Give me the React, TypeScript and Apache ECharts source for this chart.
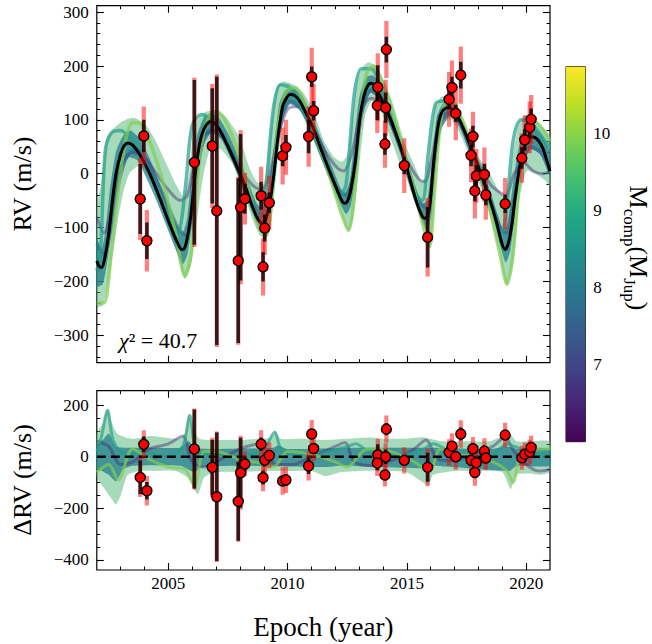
import React, { useEffect, useRef } from "react";
import * as echarts from "echarts";

// ---------------- data ----------------
const epochs = [2003.82, 2003.97, 2004.10, 2006.09, 2006.84, 2007.03, 2007.93, 2008.03, 2008.21, 2008.89, 2008.97, 2009.04, 2009.23, 2009.79, 2009.93, 2010.88, 2011.01, 2011.09, 2013.78, 2013.76, 2014.14, 2014.11, 2014.08, 2014.89, 2015.87, 2016.77, 2016.89, 2017.05, 2017.26, 2017.77, 2017.69, 2017.91, 2017.85, 2018.25, 2018.31, 2019.12, 2019.82, 2019.94, 2020.15, 2020.21];
const rvValues = [-47, 70, -124.5, 21, 51.5, -69, -161.5, -62.5, -46.5, -41, -173, -101, -54, 33, 49, 69, 180, 117, 160.5, 126.5, 230.5, 122.7, 55, 15, -118, 138, 160, 112, 183, 69, 34, -4, -32, -1.5, -39.5, -56, 29, 63, 86, 101];
const rvErrInst = [65, 30, 34, 153, 107, 249, 153, 136, 28, 26, 27, 25, 19, 19, 23, 31, 19, 18, 41, 27, 24, 28, 20, 16, 56, 19, 20, 16, 25, 20, 20, 20, 19, 20, 19, 17, 20, 20, 20, 20];
const rvErrTotal = [76, 55, 57, 157, 115, 253, 156, 143, 48, 54, 53, 50, 50, 53, 51, 56, 54, 50, 63, 51, 53, 52, 44, 51, 73, 51, 50, 50, 53, 46, 50, 50, 51, 50, 46, 48, 46, 45, 48, 45];
const residValues = [-80, 48, -132, 30, -41, -155, -173, -62, -28, 49, -81, -13, 5, -94, -90, -36, 88, 32, 7, -24, 107, 0, -71, -14, -41, 17, 41, 0, 88, 31, -14, -23, -61, 22, -5, 84, -4, 10, 18, 36];

const bestFitCurve = [[2002.0,-162],[2002.1,-172],[2002.2,-174],[2002.32,-160],[2002.52,-105],[2002.68,-40],[2002.81,1],[2003.01,38],[2003.15,52],[2003.3,57],[2003.5,53],[2003.78,37],[2004.2,2],[2004.62,-43],[2005.04,-92],[2005.39,-129],[2005.57,-141],[2005.68,-138],[2005.8,-118],[2005.95,-75],[2006.1,-10],[2006.25,40],[2006.4,72],[2006.58,90],[2006.79,97],[2007.07,87],[2007.42,58],[2007.84,17],[2008.26,-28],[2008.5,-58],[2008.7,-80],[2008.85,-90],[2008.97,-92],[2009.1,-82],[2009.23,-59],[2009.4,-10],[2009.6,70],[2009.79,125],[2009.93,139],[2010.1,147],[2010.3,145],[2010.52,134],[2010.88,103],[2011.05,88],[2011.36,50],[2011.78,2],[2012.13,-36],[2012.3,-52],[2012.4,-55],[2012.52,-50],[2012.65,-30],[2012.83,19],[2013.04,106],[2013.2,145],[2013.35,163],[2013.5,168],[2013.66,163],[2013.77,153],[2014.1,124],[2014.5,80],[2014.89,28],[2015.34,-43],[2015.6,-75],[2015.75,-83],[2015.87,-78],[2015.97,-55],[2016.11,15],[2016.32,92],[2016.5,117],[2016.75,123],[2016.9,120],[2017.05,112],[2017.26,95],[2017.7,48],[2018.14,-5],[2018.49,-50],[2018.77,-92],[2018.98,-129],[2019.12,-141],[2019.25,-130],[2019.4,-95],[2019.53,-48],[2019.7,5],[2019.82,32],[2019.94,52],[2020.15,66],[2020.3,68],[2020.5,62],[2020.7,47],[2020.93,15],[2021.0,5]];

const orbitBandUpper = [[2002.0,-60],[2002.18,-20],[2002.39,63],[2002.66,82],[2003.0,95],[2003.3,102],[2003.64,103],[2004.06,90],[2004.48,60],[2004.9,20],[2005.32,-20],[2005.63,-42],[2005.85,-5],[2006.0,60],[2006.16,95],[2006.45,112],[2006.8,118],[2007.14,117],[2007.42,105],[2007.98,68],[2008.39,12],[2008.7,-15],[2008.98,-20],[2009.15,20],[2009.3,90],[2009.54,160],[2009.82,171],[2010.24,165],[2010.66,150],[2011.08,118],[2011.5,63],[2011.92,32],[2012.27,22],[2012.5,35],[2012.7,100],[2012.9,172],[2013.18,200],[2013.39,207],[2013.74,199],[2014.15,162],[2014.5,118],[2014.92,56],[2015.34,13],[2015.62,-15],[2015.8,-5],[2015.95,40],[2016.18,125],[2016.46,143],[2016.81,140],[2017.16,118],[2017.58,75],[2017.99,32],[2018.41,7],[2018.83,-30],[2019.11,-43],[2019.3,-10],[2019.5,50],[2019.67,85],[2019.95,109],[2020.37,100],[2020.79,82],[2021.0,70]];
const orbitBandLower = [[2002.0,-247],[2002.25,-245],[2002.53,-190],[2002.8,-110],[2003.08,-40],[2003.36,0],[2003.78,15],[2004.13,0],[2004.48,-35],[2004.9,-85],[2005.32,-140],[2005.67,-195],[2005.95,-170],[2006.16,-100],[2006.44,-10],[2006.79,50],[2007.21,45],[2007.7,18],[2008.12,-30],[2008.53,-85],[2008.85,-115],[2009.1,-120],[2009.3,-92],[2009.54,5],[2009.82,100],[2010.1,128],[2010.52,116],[2010.94,80],[2011.36,32],[2011.78,-12],[2012.2,-68],[2012.55,-108],[2012.76,-80],[2013.04,30],[2013.25,108],[2013.53,135],[2013.95,112],[2014.29,69],[2014.71,19],[2014.92,1],[2015.34,-55],[2015.76,-105],[2015.97,-138],[2016.11,-85],[2016.25,30],[2016.46,85],[2016.81,102],[2017.16,80],[2017.58,38],[2017.99,-12],[2018.41,-68],[2018.83,-136],[2019.18,-208],[2019.46,-165],[2019.74,-43],[2020.02,5],[2020.37,0],[2020.79,-12],[2021.0,-24]];
const orbitCoreUpper = [[2002.0,-120],[2002.2,-140],[2002.35,-110],[2002.55,-30],[2002.8,40],[2003.1,70],[2003.4,80],[2003.8,65],[2004.2,30],[2004.6,-15],[2005.0,-60],[2005.4,-100],[2005.6,-110],[2005.8,-80],[2006.0,10],[2006.2,70],[2006.5,105],[2006.8,112],[2007.1,105],[2007.5,75],[2007.9,35],[2008.3,-10],[2008.7,-55],[2008.95,-65],[2009.15,-40],[2009.4,40],[2009.65,130],[2009.9,155],[2010.2,160],[2010.6,145],[2011.0,110],[2011.4,65],[2011.8,20],[2012.2,-25],[2012.4,-35],[2012.6,-15],[2012.8,60],[2013.0,140],[2013.3,180],[2013.6,182],[2013.9,160],[2014.3,115],[2014.8,50],[2015.3,-20],[2015.65,-55],[2015.85,-50],[2016.05,20],[2016.25,105],[2016.55,133],[2016.85,135],[2017.2,110],[2017.6,70],[2018.0,20],[2018.4,-20],[2018.8,-75],[2019.05,-105],[2019.2,-95],[2019.45,-20],[2019.7,50],[2020.0,80],[2020.4,82],[2020.8,60],[2021.0,40]];
const orbitCoreLower = [[2002.0,-210],[2002.25,-205],[2002.45,-160],[2002.7,-80],[2002.95,-10],[2003.3,30],[2003.7,25],[2004.1,-10],[2004.5,-50],[2004.9,-95],[2005.3,-140],[2005.6,-168],[2005.8,-150],[2006.0,-90],[2006.2,-10],[2006.5,55],[2006.8,75],[2007.2,65],[2007.7,20],[2008.1,-25],[2008.5,-70],[2008.85,-105],[2009.05,-105],[2009.3,-60],[2009.5,20],[2009.8,105],[2010.1,130],[2010.5,120],[2010.9,85],[2011.3,40],[2011.8,-15],[2012.2,-55],[2012.45,-75],[2012.65,-60],[2012.9,10],[2013.15,110],[2013.45,150],[2013.8,140],[2014.2,100],[2014.7,40],[2015.2,-35],[2015.6,-85],[2015.85,-105],[2016.05,-70],[2016.25,30],[2016.5,95],[2016.85,108],[2017.2,90],[2017.7,30],[2018.2,-30],[2018.6,-80],[2018.95,-140],[2019.15,-165],[2019.35,-140],[2019.6,-50],[2019.85,15],[2020.2,45],[2020.6,35],[2021.0,-5]];

const orbitHighMass = [[2002.0,-240],[2002.3,-240],[2002.6,-150],[2002.9,-30],[2003.2,60],[2003.5,95],[2003.9,90],[2004.3,50],[2004.8,-20],[2005.3,-110],[2005.7,-190],[2005.95,-150],[2006.2,-20],[2006.5,80],[2006.9,115],[2007.3,105],[2007.8,55],[2008.3,-20],[2008.8,-100],[2009.1,-115],[2009.35,-40],[2009.6,90],[2009.9,150],[2010.3,160],[2010.8,120],[2011.3,55],[2011.8,-10],[2012.3,-80],[2012.55,-105],[2012.8,-40],[2013.0,80],[2013.3,185],[2013.6,200],[2013.9,175],[2014.3,130],[2014.8,50],[2015.3,-30],[2015.7,-100],[2015.95,-135],[2016.15,-40],[2016.4,90],[2016.7,140],[2017.0,130],[2017.5,80],[2018.0,10],[2018.5,-70],[2018.9,-150],[2019.2,-205],[2019.45,-150],[2019.7,-20],[2020.0,80],[2020.4,95],[2020.8,75],[2021.0,60]];
const orbitLowMass = [[2002.0,-80],[2002.3,-110],[2002.6,-70],[2003.0,10],[2003.5,40],[2004.0,30],[2004.5,0],[2005.0,-30],[2005.5,-50],[2005.8,-40],[2006.1,20],[2006.5,70],[2006.9,80],[2007.4,60],[2008.0,10],[2008.5,-20],[2008.9,-30],[2009.2,-10],[2009.6,70],[2010.0,120],[2010.4,125],[2011.0,90],[2011.6,40],[2012.1,10],[2012.35,5],[2012.7,40],[2013.1,120],[2013.5,140],[2013.9,130],[2014.5,75],[2015.0,25],[2015.5,-10],[2015.75,-15],[2016.0,20],[2016.4,100],[2016.8,115],[2017.3,90],[2017.9,30],[2018.5,-20],[2018.9,-35],[2019.15,-40],[2019.5,0],[2019.9,20],[2020.3,5],[2020.7,0],[2021.0,5]];
const orbitMidMass = [[2002.0,-130],[2002.3,-150],[2002.6,-100],[2002.9,-20],[2003.3,35],[2003.7,45],[2004.2,15],[2004.8,-40],[2005.4,-100],[2005.75,-115],[2006.0,-60],[2006.3,30],[2006.7,80],[2007.1,80],[2007.6,40],[2008.2,-20],[2008.7,-70],[2009.05,-80],[2009.35,-20],[2009.7,95],[2010.1,135],[2010.5,125],[2011.1,75],[2011.7,5],[2012.2,-35],[2012.45,-40],[2012.75,0],[2013.1,110],[2013.5,155],[2013.9,140],[2014.5,75],[2015.0,15],[2015.5,-50],[2015.85,-65],[2016.05,-20],[2016.35,80],[2016.8,110],[2017.3,85],[2017.9,15],[2018.5,-50],[2018.95,-105],[2019.2,-110],[2019.45,-60],[2019.8,20],[2020.2,50],[2020.6,40],[2021.0,10]];
const orbitEarly = [[2002.0,-180],[2002.15,-150],[2002.35,40],[2002.6,75],[2003.0,80],[2003.4,65],[2003.9,30],[2004.4,-20],[2004.9,-70],[2005.3,-110],[2005.5,-100],[2005.75,-10],[2006.0,90],[2006.4,110],[2006.8,100],[2007.3,70],[2007.9,10],[2008.4,-50],[2008.8,-80],[2009.05,-40],[2009.4,120],[2009.7,165],[2010.1,160],[2010.6,120],[2011.2,60],[2011.8,0],[2012.2,-40],[2012.45,-20],[2012.8,150],[2013.1,195],[2013.5,195],[2014.0,150],[2014.5,90],[2015.0,20],[2015.4,-40],[2015.65,-50],[2015.9,40],[2016.2,130],[2016.6,135],[2017.1,110],[2017.6,60],[2018.1,0],[2018.6,-70],[2018.95,-110],[2019.15,-80],[2019.45,60],[2019.8,100],[2020.3,90],[2020.8,60],[2021.0,50]];

const residBandUpper = [[2002.0,90],[2002.25,130],[2002.45,185],[2002.6,140],[2002.85,90],[2003.2,75],[2003.6,70],[2004.2,80],[2004.8,75],[2005.4,70],[2005.7,90],[2005.85,165],[2006.0,120],[2006.3,70],[2007.0,65],[2008.0,65],[2008.8,70],[2009.3,75],[2009.5,100],[2009.7,70],[2010.5,70],[2011.5,65],[2012.5,70],[2013.5,75],[2014.0,70],[2015.0,70],[2015.7,75],[2016.5,60],[2017.5,60],[2018.5,60],[2019.0,80],[2019.3,90],[2019.6,60],[2020.2,60],[2021.0,58]];
const residBandLower = [[2002.0,-80],[2002.3,-120],[2002.6,-160],[2002.8,-185],[2003.0,-150],[2003.3,-70],[2003.8,-55],[2004.5,-55],[2005.3,-55],[2005.8,-80],[2006.1,-130],[2006.25,-145],[2006.5,-80],[2007.0,-60],[2008.0,-58],[2009.0,-55],[2010.0,-55],[2011.0,-55],[2011.6,-75],[2012.2,-60],[2013.0,-55],[2014.0,-55],[2015.0,-60],[2015.9,-110],[2016.1,-70],[2017.0,-55],[2018.0,-55],[2019.0,-60],[2019.35,-125],[2019.6,-70],[2020.2,-65],[2020.6,-70],[2021.0,-58]];
const residCoreUpper = [[2002.0,40],[2002.3,70],[2002.5,90],[2002.8,40],[2003.3,35],[2004.5,35],[2005.5,35],[2005.85,60],[2006.1,35],[2007.0,30],[2009.4,35],[2009.6,45],[2010.0,30],[2012.5,35],[2013.5,35],[2016.0,35],[2018.5,30],[2019.2,40],[2019.6,30],[2021.0,30]];
const residCoreLower = [[2002.0,-40],[2002.5,-70],[2002.8,-95],[2003.1,-50],[2003.5,-35],[2005.5,-35],[2006.1,-60],[2006.4,-40],[2008.0,-35],[2011.6,-40],[2012.2,-35],[2015.8,-45],[2016.1,-35],[2019.3,-55],[2019.6,-35],[2021.0,-35]];
const residLowMass = [[2002.0,60],[2002.5,40],[2003.0,-30],[2003.5,-20],[2004.2,30],[2005.0,50],[2005.6,80],[2006.0,-20],[2006.5,-40],[2007.0,-20],[2008.0,30],[2008.9,50],[2009.5,-30],[2010.2,-30],[2011.0,0],[2012.0,40],[2012.4,55],[2012.8,-20],[2013.6,-35],[2014.5,-10],[2015.3,30],[2015.8,65],[2016.3,-10],[2016.9,-15],[2017.8,10],[2018.6,40],[2019.1,75],[2019.5,20],[2020.0,-30],[2020.5,-55],[2021.0,-50]];
const residHighMass = [[2002.0,-60],[2002.5,-30],[2002.9,-90],[2003.5,30],[2004.2,-10],[2005.0,-40],[2005.7,-50],[2006.1,-110],[2006.5,20],[2007.0,20],[2008.0,-10],[2008.9,-25],[2009.4,-40],[2010.0,20],[2011.0,10],[2012.0,-20],[2012.5,-40],[2013.2,25],[2013.7,30],[2014.5,15],[2015.3,-20],[2015.95,-55],[2016.4,30],[2017.0,10],[2017.8,0],[2018.6,-20],[2019.2,-55],[2019.45,-100],[2019.8,20],[2020.4,30],[2021.0,30]];
const residEarly = [[2002.0,20],[2002.2,80],[2002.45,180],[2002.7,60],[2003.2,10],[2004.0,15],[2005.0,0],[2005.6,40],[2005.9,160],[2006.2,20],[2007.0,10],[2008.0,0],[2009.0,30],[2009.45,95],[2009.8,20],[2011.0,10],[2012.5,40],[2012.85,50],[2013.5,15],[2015.0,10],[2015.7,30],[2016.1,50],[2017.0,10],[2018.5,0],[2019.2,50],[2019.5,40],[2020.5,10],[2021.0,15]];

// ticks
const xMajorTicks = [2005, 2010, 2015, 2020];
const xMinorTicks = [2003, 2004, 2006, 2007, 2008, 2009, 2011, 2012, 2013, 2014, 2016, 2017, 2018, 2019];
const rvMajorTicks = [-300, -200, -100, 0, 100, 200, 300];
const rvMinorTicks = [-340, -320, -280, -260, -240, -220, -180, -160, -140, -120, -80, -60, -40, -20, 20, 40, 60, 80, 120, 140, 160, 180, 220, 240, 260, 280];
const resMajorTicks = [-400, -200, 0, 200];
const resMinorTicks = [-350, -300, -250, -150, -100, -50, 50, 100, 150];
const cbMajorTicks = [7, 8, 9, 10];
const cbMinorTicks = [6.2, 6.4, 6.6, 6.8, 7.2, 7.4, 7.6, 7.8, 8.2, 8.4, 8.6, 8.8, 9.2, 9.4, 9.6, 9.8, 10.2, 10.4, 10.6, 10.8];

const X_MIN = 2002, X_MAX = 2021;
const RV_MIN = -351, RV_MAX = 312;
const RES_MIN = -439, RES_MAX = 256;
const CB_MIN = 6.0, CB_MAX = 10.86;
const CHI2 = "40.7";

const VIRIDIS = ["#440154", "#482475", "#414487", "#355f8d", "#2a788e", "#21918c", "#22a884", "#44bf70", "#7ad151", "#bddf26", "#fde725"];

const FONT = "Liberation Serif";

const fmtNum = (v: number) => (v < 0 ? "\u2212" + Math.abs(v) : String(v));

function axisPair(gridIndex: number, position: string, min: number, max: number, major: number[], minor: number[], showLabels: boolean, labelMargin: number) {
  const base = {
    type: "value",
    gridIndex,
    position,
    min,
    max,
    splitLine: { show: false },
    axisLine: { show: false, onZero: false },
  };
  const majorAx = {
    ...base,
    axisTick: { show: true, inside: true, length: 7, customValues: major, lineStyle: { color: "#000", width: 1.1 } },
    axisLabel: showLabels
      ? {
          show: true,
          customValues: major,
          formatter: (v: number) => "{t|" + fmtNum(v) + "}",
          margin: labelMargin,
          fontFamily: FONT,
          fontSize: 17,
          color: "#000",
          rich: { t: { fontFamily: FONT, fontSize: 17, color: "#000" } },
        }
      : { show: false },
  };
  const minorAx = {
    ...base,
    axisTick: { show: true, inside: true, length: 3.5, customValues: minor, lineStyle: { color: "#000", width: 1 } },
    axisLabel: { show: false },
  };
  return [majorAx, minorAx];
}

function bandSeries(xi: number, yi: number, upper: number[][], lower: number[][], fill: string) {
  return {
    type: "custom",
    xAxisIndex: xi,
    yAxisIndex: yi,
    clip: true,
    silent: true,
    data: [[X_MIN, 0]],
    renderItem: (_p: any, api: any) => {
      const pts = upper.map((p) => api.coord(p)).concat(lower.slice().reverse().map((p) => api.coord(p)));
      return { type: "polygon", shape: { points: pts, smooth: 0.2 }, style: { fill, stroke: null } };
    },
  };
}

function curveSeries(xi: number, yi: number, data: number[][], color: string, width: number, z = 2) {
  return {
    type: "line",
    xAxisIndex: xi,
    yAxisIndex: yi,
    data,
    showSymbol: false,
    symbol: "none",
    smooth: 0.3,
    clip: true,
    silent: true,
    z,
    lineStyle: { color, width },
  };
}

function errSeries(xi: number, yi: number, vals: number[], errs: number[], color: string, width: number) {
  return {
    type: "custom",
    xAxisIndex: xi,
    yAxisIndex: yi,
    clip: true,
    silent: true,
    z: 5,
    encode: { x: 0, y: 1 },
    data: epochs.map((t, i) => [t, vals[i], errs[i]]),
    renderItem: (_p: any, api: any) => {
      const x = api.value(0), y = api.value(1), e = api.value(2);
      const a = api.coord([x, y + e]);
      const b = api.coord([x, y - e]);
      return { type: "line", shape: { x1: a[0], y1: a[1], x2: b[0], y2: b[1] }, style: { stroke: color, lineWidth: width } };
    },
  };
}

function pointSeries(xi: number, yi: number, vals: number[]) {
  return {
    type: "scatter",
    xAxisIndex: xi,
    yAxisIndex: yi,
    z: 6,
    symbolSize: 10,
    data: epochs.map((t, i) => [t, vals[i]]),
    itemStyle: { color: "#ff0000", borderColor: "#000", borderWidth: 1.4, opacity: 1 },
  };
}

function richText(text: string, size: number) {
  return {
    text: "{t|" + text + "}",
    fill: "#000",
    fontFamily: FONT,
    fontSize: size,
    align: "center",
    verticalAlign: "middle",
    rich: { t: { fontFamily: FONT, fontSize: size, fill: "#000", lineHeight: size + 4 } },
  };
}

export default function App() {
  const ref = useRef<HTMLDivElement>(null);

  useEffect(() => {
    if (!ref.current) return;
    const chart = echarts.init(ref.current, null, { renderer: "svg" });

    const gridTop = { left: 96.8, top: 5.7, width: 453.2, height: 357, show: true, borderColor: "#000", borderWidth: 1.2, backgroundColor: "transparent" };
    const gridBot = { left: 96.8, top: 390.7, width: 453.2, height: 179.3, show: true, borderColor: "#000", borderWidth: 1.2, backgroundColor: "transparent" };
    const gridCb = { left: 566, top: 66.7, width: 19.3, height: 375, show: true, borderColor: "#000", borderWidth: 1, backgroundColor: "transparent" };

    const xAxis = [
      ...axisPair(0, "bottom", X_MIN, X_MAX, xMajorTicks, xMinorTicks, false, 6),
      ...axisPair(0, "top", X_MIN, X_MAX, xMajorTicks, xMinorTicks, false, 6),
      ...axisPair(1, "bottom", X_MIN, X_MAX, xMajorTicks, xMinorTicks, true, 5),
      ...axisPair(1, "top", X_MIN, X_MAX, xMajorTicks, xMinorTicks, false, 6),
      { type: "value", gridIndex: 2, min: 0, max: 1, show: false },
    ];
    const yAxis = [
      ...axisPair(0, "left", RV_MIN, RV_MAX, rvMajorTicks, rvMinorTicks, true, 8),
      ...axisPair(0, "right", RV_MIN, RV_MAX, rvMajorTicks, rvMinorTicks, false, 8),
      ...axisPair(1, "left", RES_MIN, RES_MAX, resMajorTicks, resMinorTicks, true, 8),
      ...axisPair(1, "right", RES_MIN, RES_MAX, resMajorTicks, resMinorTicks, false, 8),
      ...axisPair(2, "right", CB_MIN, CB_MAX, cbMajorTicks, cbMinorTicks, true, 8),
    ];

    const gradStops = VIRIDIS.map((c, i) => ({ offset: i / (VIRIDIS.length - 1), color: c }));

    const OUTER = "rgba(80,180,120,0.5)";
    const CORE = "rgba(33,125,140,0.75)";

    const series: any[] = [
      // top panel
      bandSeries(0, 0, orbitBandUpper, orbitBandLower, OUTER),
      bandSeries(0, 0, orbitCoreUpper, orbitCoreLower, CORE),
      curveSeries(0, 0, orbitLowMass, "rgba(72,40,120,0.45)", 3),
      curveSeries(0, 0, orbitMidMass, "rgba(49,104,142,0.6)", 3.5),
      curveSeries(0, 0, orbitEarly, "rgba(31,158,137,0.7)", 3.5),
      curveSeries(0, 0, orbitHighMass, "rgba(130,205,80,0.7)", 3.5),
      curveSeries(0, 0, bestFitCurve, "#000000", 3, 4),
      errSeries(0, 0, rvValues, rvErrTotal, "rgba(255,0,0,0.5)", 4.2),
      errSeries(0, 0, rvValues, rvErrInst, "rgba(0,0,0,0.8)", 3.5),
      pointSeries(0, 0, rvValues),
      // bottom panel
      bandSeries(4, 4, residBandUpper, residBandLower, OUTER),
      bandSeries(4, 4, residCoreUpper, residCoreLower, CORE),
      curveSeries(4, 4, residLowMass, "rgba(72,40,120,0.45)", 3),
      curveSeries(4, 4, residEarly, "rgba(31,158,137,0.65)", 3),
      curveSeries(4, 4, residHighMass, "rgba(130,205,80,0.7)", 3),
      {
        type: "line",
        xAxisIndex: 4,
        yAxisIndex: 4,
        data: [[X_MIN, 0], [X_MAX, 0]],
        showSymbol: false,
        symbol: "none",
        z: 4,
        silent: true,
        lineStyle: { color: "#000", width: 2.5, type: [9, 5] },
      },
      errSeries(4, 4, residValues, rvErrTotal, "rgba(255,0,0,0.5)", 4.2),
      errSeries(4, 4, residValues, rvErrInst, "rgba(0,0,0,0.8)", 3.5),
      pointSeries(4, 4, residValues),
      // colorbar
      {
        type: "custom",
        xAxisIndex: 8,
        yAxisIndex: 8,
        silent: true,
        data: [[0, CB_MIN]],
        renderItem: (_p: any, api: any) => {
          const a = api.coord([0, CB_MAX]);
          const b = api.coord([1, CB_MIN]);
          return {
            type: "rect",
            shape: { x: a[0], y: a[1], width: b[0] - a[0], height: b[1] - a[1] },
            style: { fill: new echarts.graphic.LinearGradient(0, 1, 0, 0, gradStops) },
          };
        },
      },
    ];

    const graphic = [
      { type: "text", x: 22, y: 184, rotation: Math.PI / 2, style: richText("RV (m/s)", 26) },
      { type: "text", x: 22, y: 480, rotation: Math.PI / 2, style: richText("\u0394RV (m/s)", 26) },
      { type: "text", x: 323.4, y: 627, style: richText("Epoch (year)", 27) },
      {
        type: "text",
        x: 119,
        y: 340,
        style: {
          text: "{i|\u03c7}{n|\u00b2 = " + CHI2 + "}",
          align: "left",
          verticalAlign: "middle",
          fontFamily: FONT,
          fontSize: 22,
          rich: {
            i: { fontFamily: FONT, fontSize: 22, lineHeight: 26, fontStyle: "italic", fill: "#000" },
            n: { fontFamily: FONT, fontSize: 22, lineHeight: 26, fill: "#000" },
          },
        },
      },
      {
        type: "text",
        x: 637,
        y: 248,
        rotation: -Math.PI / 2,
        style: {
          text: "{m|M}{s|comp}{m|(M}{s|Jup}{m|)}",
          align: "center",
          verticalAlign: "middle",
          fontFamily: FONT,
          fontSize: 26,
          rich: {
            m: { fontFamily: FONT, fontSize: 26, lineHeight: 28, verticalAlign: "top", fill: "#000" },
            s: { fontFamily: FONT, fontSize: 17, lineHeight: 17, verticalAlign: "top", padding: [13, 0, 0, 0], fill: "#000" },
          },
        },
      },
    ];

    chart.setOption({
      animation: false,
      backgroundColor: "#ffffff",
      textStyle: { fontFamily: FONT },
      grid: [gridTop, gridBot, gridCb],
      xAxis,
      yAxis,
      series,
      graphic,
    });

    return () => chart.dispose();
  }, []);

  return <div ref={ref} style={{ position: "absolute", left: 0, top: 0, width: 652, height: 644 }} />;
}
